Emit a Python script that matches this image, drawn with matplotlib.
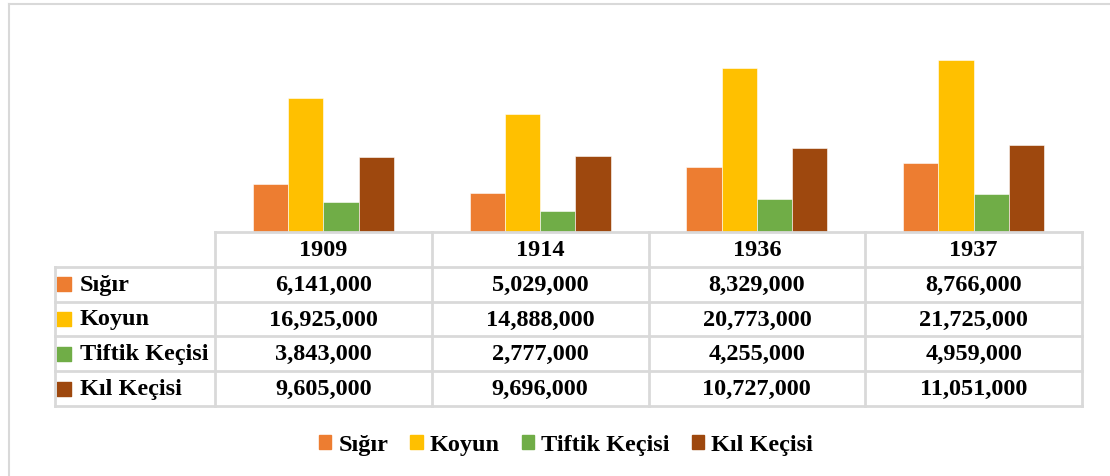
import matplotlib.pyplot as plt
from matplotlib.patches import Patch
from matplotlib.lines import Line2D

plt.rcParams['font.family'] = ['Liberation Serif', 'DejaVu Serif']
plt.rcParams['font.weight'] = 'bold'

years = ['1909', '1914', '1936', '1937']
series = ['Sığır', 'Koyun', 'Tiftik Keçisi', 'Kıl Keçisi']
sigir = [6141000, 5029000, 8329000, 8766000]
koyun = [16925000, 14888000, 20773000, 21725000]
tiftik = [3843000, 2777000, 4255000, 4959000]
kil = [9605000, 9696000, 10727000, 11051000]
values = [sigir, koyun, tiftik, kil]
colors = ['#ED7D31', '#FFC000', '#70AD47', '#9E480E']

W, H = 1110, 477
fig = plt.figure(figsize=(W / 100, H / 100), dpi=100)

# outer chart frame (cut off at right/bottom like the source)
grey = '#D9D9D9'
fig.add_artist(Line2D([9 / W, 1], [1 - 5 / H, 1 - 5 / H], color=grey, lw=1.5))
fig.add_artist(Line2D([9 / W, 9 / W], [1 - 5 / H, 0], color=grey, lw=1.5))

# bars
ax = fig.add_axes([215 / W, (H - 234) / H, 867 / W, (234 - 35) / H])
bw = 0.1625
for i, (name, vals) in enumerate(zip(series, values)):
    off = (i - 1.5) * bw
    ax.bar([k + off for k in range(len(years))], vals, width=bw,
           color=colors[i], label=name, edgecolor='white', linewidth=0.4)
ax.set_xlim(-0.5, len(years) - 0.5)
ax.set_ylim(0, 25000000)
ax.axis('off')

# data table
left_px = 55
tab = fig.add_axes([left_px / W, (H - 407) / H, (1082 - left_px) / W, 174 / H])
x0 = -0.5 - (215 - left_px) / ((1082 - 215) / len(years))
tab.set_xlim(x0, len(years) - 0.5)
tab.set_ylim(len(series) + 1, 0)
tab.axis('off')
lw = 2
# header row
tab.plot([-0.5, len(years) - 0.5], [0, 0], color=grey, lw=lw, clip_on=False)
for k in range(len(years) + 1):
    tab.plot([k - 0.5, k - 0.5], [0, 1], color=grey, lw=lw, clip_on=False)
for r in range(1, len(series) + 2):
    tab.plot([x0, len(years) - 0.5], [r, r], color=grey, lw=lw, clip_on=False)
for xv in [x0] + [k - 0.5 for k in range(len(years) + 1)]:
    tab.plot([xv, xv], [1, len(series) + 1], color=grey, lw=lw, clip_on=False)

fs = 17.5
for k, y in enumerate(years):
    tab.text(k, 0.5, y, ha='center', va='center', fontsize=fs, fontweight='bold')
for r, (name, vals) in enumerate(zip(series, values)):
    yc = r + 1.5
    tab.scatter([x0 + 0.04], [yc], marker='s', s=95, color=colors[r], clip_on=False)
    tab.text(x0 + 0.115, yc, name, ha='left', va='center', fontsize=fs, fontweight='bold')
    for k, v in enumerate(vals):
        tab.text(k, yc, f'{v:,}', ha='center', va='center', fontsize=fs, fontweight='bold')

# legend
handles = [Patch(color=c) for c in colors]
fig.legend(handles, series, loc='center', bbox_to_anchor=(566 / W, 1 - 446 / H), ncol=4,
           frameon=False, handlelength=0.5, handleheight=0.5,
           handletextpad=0.3, columnspacing=0.9, prop={'size': fs, 'weight': 'bold'})

fig.savefig('out.png', dpi=100, facecolor='white')
